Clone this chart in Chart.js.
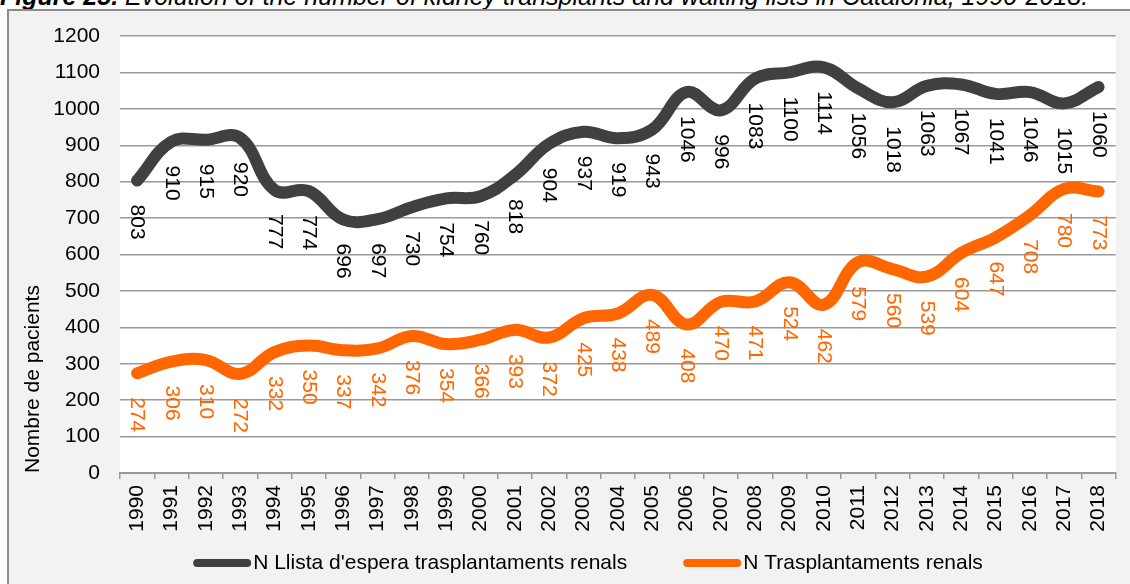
<!DOCTYPE html>
<html>
<head>
<meta charset="utf-8">
<script src="https://cdn.jsdelivr.net/npm/chart.js@4.4.0/dist/chart.umd.min.js"></script>
<style>
html, body { margin:0; padding:0; background:#fff; width:1130px; height:584px; overflow:hidden; }
#titol { position:absolute; left:0; top:-16px; font:italic 25px 'Liberation Sans', Arial, sans-serif; line-height:25px; white-space:nowrap; color:#000; }
#caixa { position:absolute; left:7px; top:9px; width:1140px; height:600px; background:#f2f2f2; border-left:2px solid #8c8c8c; border-top:2px solid #8c8c8c; }
#grafic { position:absolute; left:0; top:0; }
</style>
</head>
<body>
<div id="titol"><b>Figure 25.</b> Evolution of the number of kidney transplants and waiting lists in Catalonia, 1990-2018.</div>
<div id="caixa"></div>
<canvas id="grafic" width="1130" height="584"></canvas>
<script>
var anys = ['1990','1991','1992','1993','1994','1995','1996','1997','1998','1999','2000','2001','2002','2003','2004','2005','2006','2007','2008','2009','2010','2011','2012','2013','2014','2015','2016','2017','2018']
var llista_espera = [803,910,915,920,777,774,696,697,730,754,760,818,904,937,919,943,1046,996,1083,1100,1114,1056,1018,1063,1067,1041,1046,1015,1060]
var trasplantaments = [274,306,310,272,332,350,337,342,376,354,366,393,372,425,438,489,408,470,471,524,462,579,560,539,604,647,708,780,773]
var marques_y = [0,100,200,300,400,500,600,700,800,900,1000,1100,1200]

var FONT = "'Liberation Sans', Arial, sans-serif"
var MIDA = 21
Chart.defaults.font.family = FONT
Chart.defaults.font.size = MIDA
Chart.defaults.color = '#000'

// fons blanc de l'area del grafic
var fons = {
    id: 'fons',
    beforeDraw: function (chart) {
        var a = chart.chartArea
        chart.ctx.save()
        chart.ctx.fillStyle = '#fff'
        chart.ctx.fillRect(a.left, a.top, a.right - a.left, a.bottom - a.top)
        chart.ctx.restore()
    }
}

// etiquetes de dades girades
var etiquetes = {
    id: 'etiquetes',
    afterDatasetsDraw: function (chart) {
        var ctx = chart.ctx
        chart.data.datasets.forEach(function (ds, i) {
            var meta = chart.getDatasetMeta(i)
            meta.data.forEach(function (pt, j) {
                ctx.save()
                ctx.translate(pt.x, pt.y + 24)
                ctx.rotate(Math.PI / 2)
                ctx.font = MIDA + 'px ' + FONT
                ctx.fillStyle = ds.colorEtiqueta
                ctx.textAlign = 'left'
                ctx.textBaseline = 'middle'
                ctx.fillText(String(ds.data[j]), 0, 0)
                ctx.restore()
            })
        })
    }
}

// llegenda a mida
var llegenda = {
    id: 'llegenda',
    afterDraw: function (chart) {
        var ctx = chart.ctx
        var y = 563
        ctx.save()
        ctx.font = MIDA + 'px ' + FONT
        var amples = chart.data.datasets.map(function (ds) { return ctx.measureText(ds.label).width })
        var total = 0
        amples.forEach(function (w) { total += 58 + 2 + w })
        total += 56 * (amples.length - 1)
        var x = 588 - total / 2
        chart.data.datasets.forEach(function (ds, i) {
            ctx.strokeStyle = ds.borderColor
            ctx.lineWidth = 8
            ctx.lineCap = 'round'
            ctx.beginPath()
            ctx.moveTo(x + 4, y)
            ctx.lineTo(x + 54, y)
            ctx.stroke()
            ctx.fillStyle = '#000'
            ctx.textAlign = 'left'
            ctx.textBaseline = 'middle'
            ctx.fillText(ds.label, x + 60, y)
            x += 60 + amples[i] + 56
        })
        ctx.restore()
    }
}

new Chart(document.getElementById('grafic'), {
    type: 'line',
    data: {
        labels: anys,
        datasets: [{
            label: "N Llista d'espera trasplantaments renals",
            data: llista_espera,
            borderColor: '#404040',
            colorEtiqueta: '#000',
            borderWidth: 12,
            tension: 0.4,
            pointRadius: 0,
            borderCapStyle: 'round',
            borderJoinStyle: 'round',
            fill: false
        }, {
            label: 'N Trasplantaments renals',
            data: trasplantaments,
            borderColor: '#ff6600',
            colorEtiqueta: '#ff6600',
            borderWidth: 12,
            tension: 0.4,
            pointRadius: 0,
            borderCapStyle: 'round',
            borderJoinStyle: 'round',
            fill: false
        }]
    },
    options: {
        responsive: false,
        animation: false,
        devicePixelRatio: 1,
        layout: { padding: { top: 36, right: 14, left: 0, bottom: 0 } },
        plugins: {
            legend: { display: false },
            tooltip: { enabled: false }
        },
        scales: {
            x: {
                offset: true,
                grid: { offset: true, drawOnChartArea: false, drawTicks: true, tickLength: 6, color: '#999', lineWidth: 1.5 },
                border: { display: true, color: '#999', width: 2 },
                ticks: { maxRotation: 90, minRotation: 90, autoSkip: false, padding: 6 },
                afterFit: function (s) { s.height = 111 }
            },
            y: {
                min: 0,
                max: 1200,
                afterBuildTicks: function (s) { s.ticks = marques_y.map(function (v) { return { value: v } }) },
                grid: { drawTicks: false, color: '#999', lineWidth: 1.5 },
                border: { display: false },
                ticks: { padding: 20, callback: function (v) { return String(v) } },
                title: { display: true, text: 'Nombre de pacients', align: 'start', padding: { top: 21, bottom: 0 } },
                afterFit: function (s) { s.width = 120 }
            }
        }
    },
    plugins: [fons, etiquetes, llegenda]
})
</script>
</body>
</html>
